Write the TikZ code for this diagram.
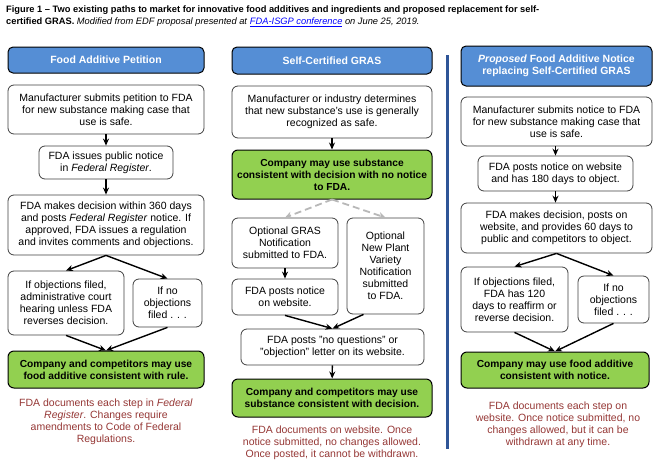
\documentclass[tikz,border=0pt]{standalone}
\usepackage{fontspec}
\setmainfont{Liberation Sans}
\usetikzlibrary{arrows.meta}
\definecolor{hdrblue}{HTML}{558ED5}
\definecolor{grnfill}{HTML}{92D050}
\definecolor{redtxt}{HTML}{953735}
\definecolor{vblue}{HTML}{2F5597}
\definecolor{linkblue}{HTML}{0000FF}
\begin{document}
\begin{tikzpicture}[x=1pt,y=-1pt,
  wbox/.style={draw=black!75, line width=0.8pt, rounded corners=6pt, fill=white, align=center, inner sep=0pt, font=\fontsize{10.5}{12}\selectfont},
  hdr/.style={draw=black, line width=1pt, rounded corners=5pt, fill=hdrblue, text=white, align=center, inner sep=0pt, font=\fontsize{10.5}{12.5}\selectfont\bfseries},
  gbox/.style={draw=black, line width=1pt, rounded corners=6pt, fill=grnfill, align=center, inner sep=0pt, font=\fontsize{10.2}{12}\selectfont\bfseries},
  rnote/.style={text=redtxt, align=center, inner sep=0pt, font=\fontsize{10.5}{12}\selectfont},
  arr/.style={-{Stealth[length=7pt,width=6pt]}, line width=1.4pt, black},
  darr/.style={-{Stealth[length=7pt,width=7pt]}, line width=1.8pt, black!28, dash pattern=on 7pt off 4pt}
]
\useasboundingbox (0,0) rectangle (664,469);

% title
\node[anchor=north west, align=left, inner sep=0pt, font=\fontsize{9.3}{11.5}\selectfont] (title) at (6,6)
 {\textbf{Figure 1 -- Two existing paths to market for innovative food additives and ingredients and proposed replacement for self-}\\
  \textbf{certified GRAS.} \textit{Modified from EDF proposal presented at} \textit{\textcolor{linkblue}{\underline{FDA-ISGP conference}}} \textit{on June 25, 2019.}};

% separator line
\draw[line width=3pt, vblue] (447,55) -- (447,449);

% column 1
\node[hdr, minimum width=196pt, minimum height=26pt] (h1) at (106,60) {Food Additive Petition};
\node[wbox, minimum width=196pt, minimum height=49pt] (a1) at (106,109.5) {Manufacturer submits petition to FDA\\for new substance making case that\\use is safe.};
\node[wbox, minimum width=134pt, minimum height=33pt] (a2) at (106,162.5) {FDA issues public notice\\in \textit{Federal Register}.};
\node[wbox, minimum width=196pt, minimum height=60pt] (a3) at (106,225) {FDA makes decision within 360 days\\and posts \textit{Federal Register} notice. If\\approved, FDA issues a regulation\\and invites comments and objections.};
\node[wbox, minimum width=116pt, minimum height=64pt] (a4) at (66,303) {If objections filed,\\administrative court\\hearing unless FDA\\reverses decision.};
\node[wbox, minimum width=69pt, minimum height=48pt] (a5) at (167.5,303) {If no\\objections\\filed . . .};
\node[gbox, minimum width=196pt, minimum height=37pt] (a6) at (106,369.5) {Company and competitors may use\\food additive consistent with rule.};
\node[rnote] (a7) at (106,422) {FDA documents each step in \textit{Federal}\\\textit{Register}. Changes require\\amendments to Code of Federal\\Regulations.};

\draw[arr] (a1) -- (a2);
\draw[arr] (a2) -- (a3);
\draw[arr] (a3.south) -- (a4.north);
\draw[arr] (a3.south) -- (a5.north);
\draw[arr] (a4.south) -- (a6.north);
\draw[arr] (a5.south) -- (a6.north);

% column 2
\node[hdr, minimum width=200pt, minimum height=27pt] (h2) at (332,60.5) {Self-Certified GRAS};
\node[wbox, minimum width=200pt, minimum height=52pt] (b1) at (332,112) {Manufacturer or industry determines\\that new substance's use is generally\\recognized as safe.};
\node[gbox, minimum width=200pt, minimum height=49pt] (b2) at (332,174.5) {Company may use substance\\consistent with decision with no notice\\to FDA.};
\node[wbox, minimum width=106pt, minimum height=50pt] (b3) at (285,243) {Optional GRAS\\Notification\\submitted to FDA.};
\node[wbox, minimum width=77pt, minimum height=96pt] (b4) at (385.5,266) {Optional\\New Plant\\Variety\\Notification\\submitted\\to FDA.};
\node[wbox, minimum width=106pt, minimum height=36pt] (b5) at (285,297) {FDA posts notice\\on website.};
\node[wbox, minimum width=183pt, minimum height=36pt] (b6) at (332.5,347) {FDA posts "no questions" or\\"objection" letter on its website.};
\node[gbox, minimum width=200pt, minimum height=38pt] (b7) at (332,398) {Company and competitors may use\\substance consistent with decision.};
\node[rnote] (b8) at (332,443) {FDA documents on website. Once\\notice submitted, no changes allowed.\\Once posted, it cannot be withdrawn.};

\draw[arr] (b1) -- (b2);
\draw[darr] (b2.south) -- (b3.north);
\draw[darr] (b2.south) -- (b4.north);
\draw[arr] (b3) -- (b5);
\draw[arr] (b5.south) -- (b6.north);
\draw[arr] ([xshift=-22pt]b4.south) -- (b6.north);
\draw[arr] (b6) -- (b7);

% column 3
\node[hdr, minimum width=191pt, minimum height=40pt] (h3) at (556.5,66) {\textit{Proposed} Food Additive Notice\\replacing Self-Certified GRAS};
\node[wbox, minimum width=191pt, minimum height=49pt] (c1) at (556.5,121.5) {Manufacturer submits notice to FDA\\for new substance making case that\\use is safe.};
\node[wbox, minimum width=155pt, minimum height=35pt] (c2) at (555.5,173.5) {FDA posts notice on website\\and has 180 days to object.};
\node[wbox, minimum width=191pt, minimum height=50pt] (c3) at (556.5,228) {FDA makes decision, posts on\\website, and provides 60 days to\\public and competitors to object.};
\node[wbox, minimum width=107pt, minimum height=65pt] (c4) at (514.5,299.5) {If objections filed,\\FDA has 120\\days to reaffirm or\\reverse decision.};
\node[wbox, minimum width=71pt, minimum height=47pt] (c5) at (613.5,299.5) {If no\\objections\\filed . . .};
\node[gbox, minimum width=188pt, minimum height=36pt] (c6) at (555,370) {Company may use food additive\\consistent with notice.};
\node[rnote] (c7) at (558,425) {FDA documents each step on\\website. Once notice submitted, no\\changes allowed, but it can be\\withdrawn at any time.};

\draw[arr] (c1.south -| c2) -- (c2);
\draw[arr] (c2) -- (c3.north -| c2);
\draw[arr] (c3.south) -- (c4.north);
\draw[arr] (c3.south) -- (c5.north);
\draw[arr] (c4.south) -- (c6.north);
\draw[arr] (c5.south) -- (c6.north);
\end{tikzpicture}
\end{document}
